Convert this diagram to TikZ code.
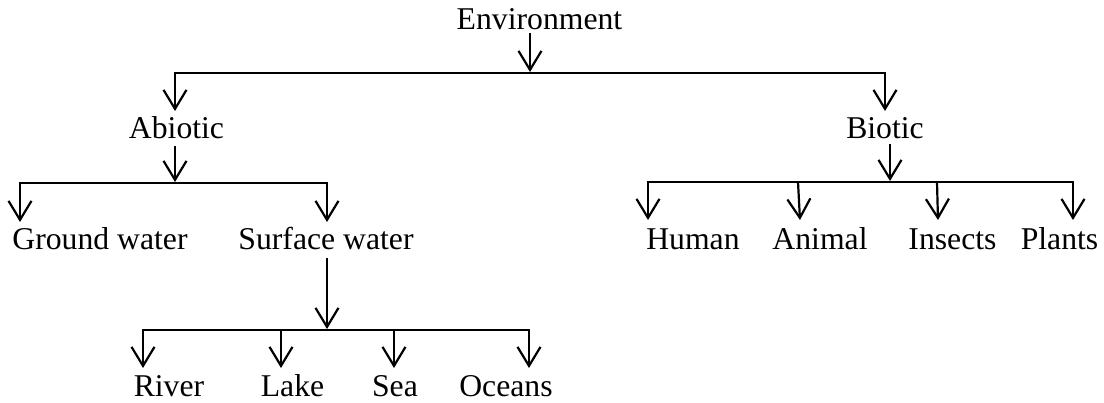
\documentclass[tikz,border=0pt]{standalone}
\usepackage{fontspec}
\setmainfont{Liberation Serif}
\usetikzlibrary{arrows.meta}
\begin{document}
\begin{tikzpicture}[x=1pt,y=-1pt,
  lbl/.style={anchor=base,inner sep=0pt,font=\fontsize{31.7}{36}\selectfont},
  ln/.style={line width=2.2pt},
  arr/.style={ln,-{Straight Barb[length=19pt,width=23pt,line width=2.2pt]}},
  arr2/.style={ln,{Straight Barb[length=19pt,width=23pt,line width=2.2pt]}-{Straight Barb[length=19pt,width=23pt,line width=2.2pt]}}]
\useasboundingbox (0,0) rectangle (1104,403);
% nodes
\node[lbl] (env) at (539.5,30) {Environment};
\node[lbl] (abio) at (176.5,139) {Abiotic};
\node[lbl] (bio) at (885,139) {Biotic};
\node[lbl] (gw) at (100,250) {Ground water};
\node[lbl] (sw) at (326,250) {Surface water};
\node[lbl] (river) at (169,397) {River};
\node[lbl] (lake) at (292.5,397) {Lake};
\node[lbl] (sea) at (395,397) {Sea};
\node[lbl] (ocean) at (506,397) {Oceans};
\node[lbl] (human) at (693,250) {Human};
\node[lbl] (animal) at (820,250) {Animal};
\node[lbl] (insect) at (952.5,250) {Insects};
\node[lbl] (plant) at (1059.5,250) {Plants};
% junction coordinates
\coordinate (e0) at (530,33);
\coordinate (e1) at (530,72);
\coordinate (eL) at (175,73);
\coordinate (eR) at (885,73);
\coordinate (eLt) at (175,111);
\coordinate (eRt) at (885,111);
\coordinate (a0) at (175,146);
\coordinate (a1) at (175,182);
\coordinate (aL) at (20,183);
\coordinate (aR) at (327,183);
\coordinate (aLt) at (20,222);
\coordinate (aRt) at (327,222);
\coordinate (s0) at (327,258);
\coordinate (s1) at (327,329);
\coordinate (sL) at (143,330);
\coordinate (sR) at (529,330);
\coordinate (sLt) at (143,368);
\coordinate (sRt) at (529,368);
\coordinate (s2) at (281,330);
\coordinate (s2t) at (281,368);
\coordinate (s3) at (394,330);
\coordinate (s3t) at (394,368);
\coordinate (b0) at (890,144);
\coordinate (b1) at (890,181);
\coordinate (bL) at (648,182);
\coordinate (bR) at (1073,182);
\coordinate (bLt) at (648,220);
\coordinate (bRt) at (1073,220);
\coordinate (b2) at (798,182);
\coordinate (b2t) at (800,220);
\coordinate (b3) at (937,182);
\coordinate (b3t) at (938,220);
% connectors
\draw[arr] (e0) -- (e1);
\draw[arr2] (eLt) -- (eL) -- (eR) -- (eRt);
\draw[arr] (a0) -- (a1);
\draw[arr2] (aLt) -- (aL) -- (aR) -- (aRt);
\draw[arr] (s0) -- (s1);
\draw[arr2] (sLt) -- (sL) -- (sR) -- (sRt);
\draw[arr] (s2) -- (s2t);
\draw[arr] (s3) -- (s3t);
\draw[arr] (b0) -- (b1);
\draw[arr2] (bLt) -- (bL) -- (bR) -- (bRt);
\draw[arr] (b2) -- (b2t);
\draw[arr] (b3) -- (b3t);
\end{tikzpicture}
\end{document}
